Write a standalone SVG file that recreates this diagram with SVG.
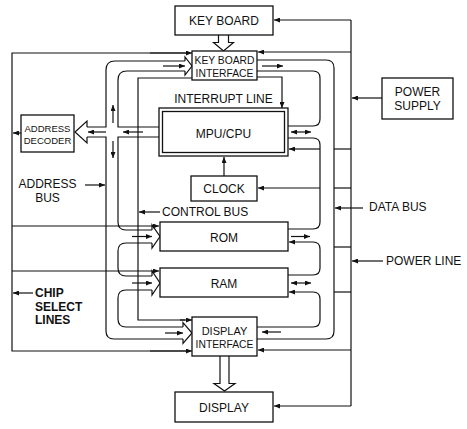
<svg xmlns="http://www.w3.org/2000/svg" width="467" height="429" viewBox="0 0 467 429">
<defs>
<marker id="ah" viewBox="0 0 6 5" refX="6" refY="2.5" markerWidth="6" markerHeight="5" markerUnits="userSpaceOnUse" orient="auto"><path d="M0,0 L6,2.5 L0,5 z" fill="#111"/></marker>
<marker id="ah2" viewBox="0 0 6 5" refX="6" refY="2.5" markerWidth="6" markerHeight="5" markerUnits="userSpaceOnUse" orient="auto-start-reverse"><path d="M0,0 L6,2.5 L0,5 z" fill="#111"/></marker>
<style>
.box{fill:#fff;stroke:#111;stroke-width:1.3}
.ln{fill:none;stroke:#111;stroke-width:1.2}
.ar{fill:none;stroke:#111;stroke-width:1.2;marker-end:url(#ah)}
.da{fill:none;stroke:#111;stroke-width:1.2;marker-start:url(#ah2);marker-end:url(#ah2)}
.hol{fill:#fff;stroke:#111;stroke-width:1.2}
text{font-family:"Liberation Sans",Arial,Helvetica,sans-serif;fill:#111}
.c{text-anchor:middle}
.f12{font-size:12px}
.f11{font-size:11px}
.f105{font-size:10.3px}
.f95{font-size:9.5px}
.b{font-weight:bold}
</style>
</defs>
<rect width="467" height="429" fill="#fff"/>

<g id="connectors">
  <!-- chip select lines -->
  <path class="ln" d="M190,53 H12 V351 H190"/>
  <path class="ar" d="M150,53 H192"/>
  <path class="ar" d="M150,351 H192"/>
  <path class="ar" d="M12,226 H159"/>
  <path class="ar" d="M12,271 H159"/>
  <path class="ar" d="M21,133 H13"/>
  <!-- control bus -->
  <path class="ln" d="M192,78 H138 V320 H185"/>
  <path class="ar" d="M180,320 H192"/>
  <!-- address bus (left band) -->
  <path class="ln" d="M185,61 H115 Q106,61 106,70 V127 H87"/>
  <path class="ln" d="M87,137 H106 V331 Q106,339 114,339 H183"/>
  <path class="ln" d="M185,71 H127 Q118,71 118,80 V127 H159"/>
  <path class="ln" d="M159,137 H118 V222 Q118,230 126,230 H152"/>
  <path class="ln" d="M152,243 H126 Q118,243 118,251 V268 Q118,276 126,276 H152"/>
  <path class="ln" d="M152,290 H126 Q118,290 118,298 V319 Q118,327 126,327 H183"/>
  <!-- hollow arrow heads of address bus -->
  <path class="ln" d="M185,61 V57 L192,66 L185,75 V71"/>
  <path class="ln" d="M87,127 V121 L75,132 L87,143 V137"/>
  <path class="ln" d="M152,230 V225 L160,236.5 L152,248 V243"/>
  <path class="ln" d="M152,276 V271 L160,283 L152,295 V290"/>
  <path class="ln" d="M183,327 V322.5 L192,333 L183,343.5 V339"/>
  <!-- small direction arrows on left band -->
  <path class="ar" d="M163,66 H185"/>
  <path class="ar" d="M106,132 H88"/>
  <path class="ar" d="M143,132 H123"/>
  <path class="ar" d="M113,123 V105"/>
  <path class="ar" d="M113,141 V158"/>
  <path class="ar" d="M132,236.5 H152"/>
  <path class="ar" d="M132,283 H152"/>
  <path class="ar" d="M165,333 H183"/>
  <!-- data bus (right band) -->
  <path class="ln" d="M257,60 H326 Q334,60 334,68 V331 Q334,339 326,339 H257"/>
  <path class="ln" d="M257,71 H313 Q320,71 320,78 V119 Q320,126 313,126 H288"/>
  <path class="ln" d="M288,138 H313 Q320,138 320,145 V222 Q320,229 313,229 H288"/>
  <path class="ar" d="M288,275 H313 Q320,275 320,268 V249 Q320,242 313,242 H289"/>
  <path class="ar" d="M257,327 H313 Q320,327 320,320 V299 Q320,292 313,292 H289"/>
  <path class="ar" d="M262,66 H283"/>
  <path class="da" d="M291,132 H311"/>
  <path class="ar" d="M291,236.5 H310"/>
  <path class="da" d="M291,283 H311"/>
  <path class="ar" d="M281,332 H262"/>
  <!-- interrupt line -->
  <path class="ar" d="M257,77 H282 V108"/>
  <!-- clock to MPU -->
  <path class="ar" d="M224,176 V157"/>
  <!-- power line -->
  <path class="ln" d="M351,20 V406"/>
  <path class="ar" d="M351,20 H274"/>
  <path class="ar" d="M351,52 H258"/>
  <path class="ar" d="M382,98 H352"/>
  <path class="ln" d="M351,149 H334"/>
  <path class="ar" d="M320,149 H289"/>
  <path class="ln" d="M351,188 H334"/>
  <path class="ar" d="M320,188 H258"/>
  <path class="ln" d="M351,247 H334"/>
  <path class="ln" d="M351,292 H334"/>
  <path class="ar" d="M351,350 H258"/>
  <path class="ar" d="M351,406 H274"/>
  <!-- label pointers -->
  <path class="ar" d="M85,185 H105"/>
  <path class="ar" d="M33,293 H13"/>
  <path class="ar" d="M160,212 H139"/>
  <path class="ar" d="M363,208 H335"/>
  <path class="ar" d="M383,261 H352"/>
  <!-- wide hollow arrows -->
  <path class="hol" d="M218.5,35 V42.5 H213.5 L223.5,51 L233.5,42.5 H228.5 V35"/>
  <path class="hol" d="M220,356 V383.5 H214 L224.5,391 L235,383.5 H229 V356"/>
</g>

<g id="keyboard">
  <rect class="box" x="175" y="6" width="98" height="29"/>
  <text class="c f12" x="224" y="24.5">KEY BOARD</text>
</g>
<g id="keyboard-interface">
  <rect class="box" x="192" y="51" width="65" height="29"/>
  <text class="c f105" x="224.5" y="63.5">KEY BOARD</text>
  <text class="c f105" x="224.5" y="76.5">INTERFACE</text>
</g>
<g id="power-supply">
  <rect class="box" x="382" y="78" width="71" height="41"/>
  <text class="c f12" x="417.5" y="96">POWER</text>
  <text class="c f12" x="417.5" y="109.5">SUPPLY</text>
</g>
<g id="interrupt-label">
  <text class="c f12" x="223.5" y="103">INTERRUPT LINE</text>
</g>
<g id="mpu">
  <rect class="box" x="159" y="108" width="129" height="48"/>
  <rect class="box" x="162.5" y="111.5" width="122" height="41"/>
  <text class="c f12" x="223.5" y="138">MPU/CPU</text>
</g>
<g id="address-decoder">
  <rect class="box" x="21" y="115" width="53" height="37"/>
  <text class="c f95" x="47.5" y="132">ADDRESS</text>
  <text class="c f95" x="47.5" y="143.5">DECODER</text>
</g>
<g id="clock">
  <rect class="box" x="191" y="176" width="66" height="25"/>
  <text class="c f12" x="224" y="193">CLOCK</text>
</g>
<g id="rom">
  <rect class="box" x="160" y="222" width="128" height="29"/>
  <text class="c f12" x="224" y="242">ROM</text>
</g>
<g id="ram">
  <rect class="box" x="160" y="268" width="128" height="29"/>
  <text class="c f12" x="224" y="288">RAM</text>
</g>
<g id="display-interface">
  <rect class="box" x="192" y="317" width="65" height="39"/>
  <text class="c f11" x="224.5" y="335">DISPLAY</text>
  <text class="c f105" x="224.5" y="347.5">INTERFACE</text>
</g>
<g id="display">
  <rect class="box" x="175" y="392" width="98" height="30"/>
  <text class="c f12" x="224" y="412">DISPLAY</text>
</g>
<g id="labels">
  <text class="c f12" x="47.5" y="188">ADDRESS</text>
  <text class="c f12" x="47.5" y="202">BUS</text>
  <text class="f12" x="162" y="216">CONTROL BUS</text>
  <text class="f12" x="369" y="211">DATA BUS</text>
  <text class="f12" x="386" y="265">POWER LINE</text>
  <text class="f12 b" x="35" y="297">CHIP</text>
  <text class="f12 b" x="35" y="310.5">SELECT</text>
  <text class="f12 b" x="35" y="324">LINES</text>
</g>
</svg>
